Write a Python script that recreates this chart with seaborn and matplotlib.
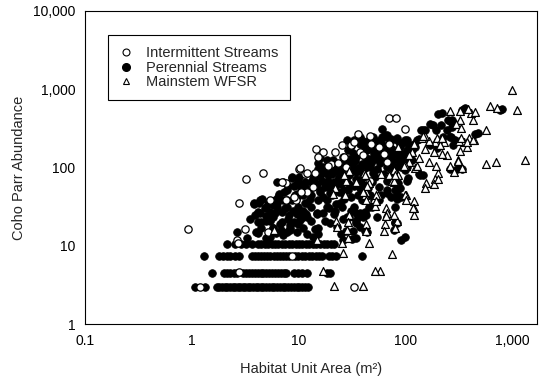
import matplotlib
matplotlib.use("Agg")
import matplotlib.pyplot as plt
import pandas as pd
import seaborn as sns
from matplotlib.lines import Line2D

# Habitat unit area (m2) and coho parr counts, by stream type.
intermittent_points = [
    (0.93, 16.5), (3.25, 72), (4.7, 86), (2.8, 35), (3.15, 16.5), (2.64, 11.8),
    (2.7, 10.8), (1.2, 3), (2.79, 4.6), (8.65, 7.5), (33, 3), (5.4, 38), (5.2, 15),
    (7.7, 63), (7.6, 38.5), (9.5, 38), (10.2, 96), (11.4, 83), (12.1, 48),
    (14.6, 170), (17, 159), (22, 156), (25.5, 192), (31, 194), (36, 268),
    (47, 252), (70, 425), (82, 425), (100, 310), (70, 200), (48, 200), (38, 158),
    (20, 112), (19, 103), (28, 101), (40, 143), (57, 183), (63, 150), (27, 136),
    (23.7, 115), (10.5, 48), (9.1, 42), (12, 84), (14.3, 84), (13.7, 56),
    (15.3, 136), (33, 213), (68, 118), (47, 68), (7, 66), (10.4, 98),
]

# Perennial units with the lowest counts fall on a few repeated values.
perennial_area_at_3 = [
    1.07, 1.33, 1.72, 1.82, 1.93, 2.04, 2.15, 2.28, 2.42, 2.56, 2.7, 2.85, 3.0,
    3.18, 3.36, 3.55, 3.75, 3.97, 4.2, 4.45, 4.7, 5.0, 5.3, 5.6, 5.95, 6.3, 6.7,
    7.1, 7.55, 8.0, 8.5, 9.0, 9.6, 10.2, 10.9, 11.6, 12.4,
]
perennial_area_at_4_5 = [
    1.54, 2.0, 2.15, 2.3, 2.48, 2.64, 3.05, 3.25, 3.45, 3.67, 3.9, 4.15, 4.42,
    4.7, 5.0, 5.32, 5.66, 6.02, 6.4, 6.8, 7.25, 7.7, 9.0, 9.9, 10.9, 12.0, 18.5,
    19.8,
]
perennial_area_at_7_5 = [
    1.3, 1.8, 1.95, 2.12, 2.3, 2.52, 2.8, 3.65, 3.9, 4.15, 4.45, 4.75, 5.1, 5.45,
    5.85, 6.25, 6.7, 7.2, 7.7, 8.2, 9.2, 9.9, 10.7, 11.6, 12.5, 13.5, 14.6, 15.7,
    16.5, 19.2, 20.8, 22.5, 39.0,
]
perennial_area_at_10_5 = [
    2.13, 2.55, 2.9, 3.25, 3.7, 4.2, 4.5, 4.85, 5.2, 5.6, 6.0, 6.5, 7.0, 7.5, 8.1,
    8.7, 9.4, 10.1, 10.9, 11.7, 12.6, 13.6, 14.7, 15.9, 17.2, 18.5, 20.0, 21.5,
]
perennial_points = [
    (3.85, 34), (4.3, 35), (4.55, 39), (4.2, 27), (4.85, 30), (5.2, 36), (5.8, 33),
    (6.3, 65), (4.2, 20), (5.0, 21), (5.8, 23), (5.8, 17), (4.5, 17), (4.0, 15),
    (5.0, 12.6), (6.3, 31), (6.6, 46), (7.3, 48), (7.2, 38), (7.8, 31), (8.1, 24.5),
    (7.0, 20), (6.8, 16), (8.4, 16), (9.0, 20), (9.8, 25.6), (9.8, 46), (10.5, 56),
    (10.1, 75), (11.4, 65), (12.7, 40), (13.2, 31), (11.8, 25.6), (13.2, 21),
    (14.3, 16.5), (13.7, 13), (15.3, 14), (15.3, 17), (14.8, 25.6), (15.3, 38),
    (16, 48), (14.8, 62), (14.3, 83), (15.3, 97), (17, 101), (18.5, 123),
    (16.6, 68), (17.8, 56), (18.5, 38), (19.2, 30), (17.8, 21),
    (2.64, 15), (3.3, 12.4), (4.2, 14.4), (5.4, 13), (7.2, 13.7), (9.6, 15),
    (5.8, 16.7), (8.4, 17), (10, 31.6), (8.65, 38), (8.65, 75), (7.8, 52),
    (9.3, 44), (3.8, 35.5), (4.4, 38), (5.0, 31.6), (6.3, 35), (7.5, 30),
    (4.4, 26), (5.4, 27), (4.5, 20), (5.4, 21), (6.7, 19), (8, 22), (10, 19),
    (20.7, 83), (21.5, 65), (20.7, 44), (22.3, 34), (21.5, 25.6), (23, 17.3),
    (24.8, 14.2), (25.8, 31), (26.8, 51), (24, 75), (24.8, 106), (28, 123),
    (29, 166), (31, 190), (33.5, 223), (37.6, 245), (35, 136), (32.4, 92),
    (30, 62), (31, 42), (33.5, 31), (30, 23), (28, 15.6), (32.4, 15.6), (35, 21),
    (37.6, 25.6), (39, 38), (37.6, 56), (40.5, 75), (39, 112), (42, 136),
    (43.7, 183), (45.5, 223), (47, 101), (49, 65), (43.7, 46), (45.5, 31),
    (40.5, 23), (42, 15.6), (19, 68), (19.9, 54), (32, 12.2), (26, 12), (35, 12.5),
    (37.8, 17.5), (36.5, 23.5), (43, 24.7),
    (7.2, 66), (8.65, 73), (7.76, 38.5), (9.6, 42), (11.5, 57), (13.8, 73),
    (15.4, 113), (18.4, 93), (21.3, 125), (26.4, 137), (29.4, 108), (23.7, 69),
    (15.9, 52), (19.8, 47), (12, 35), (14.8, 26), (18.4, 31.6), (24.5, 35),
    (28.3, 23.5), (37.8, 26), (10.4, 21.3), (8.3, 18.4), (19.8, 19.4), (35, 19.4),
    (40.5, 76), (50, 84), (58, 113), (67, 152), (42, 185), (50, 248), (65, 260),
    (83, 224), (67, 47), (80, 31.6), (83, 40), (36.5, 44.5), (48.6, 31.6),
    (54, 23.5), (80, 20.3), (100, 224), (90, 125), (104, 167),
    (220, 490), (356, 555), (273, 405), (184, 349), (195, 301), (245, 301),
    (485, 279), (154, 301), (267, 248), (130, 224), (105, 224), (65, 243),
    (83, 236), (124, 185), (90, 185), (171, 194), (198, 176), (283, 194),
    (327, 98), (107, 73), (146, 80), (85, 64), (90, 54), (83, 45), (60, 45),
    (37.8, 54), (26.4, 47), (35, 26), (42, 27), (83, 19.7), (100, 13), (43.6, 15),
    (15.4, 84), (32.7, 152), (40.5, 167), (50, 190), (60, 204), (72, 214),
    (28.3, 224), (15.9, 131),
    (364, 571), (803, 554), (254, 405), (273, 367), (148, 301), (339, 95),
    (263, 248), (295, 224), (67, 260), (93, 204), (111, 185), (62, 159), (72, 137),
    (67, 102), (78, 84), (100, 93), (138, 80),
    (340, 550), (455, 270), (770, 550), (205, 480), (263, 395), (272, 330),
    (215, 345), (142, 300), (172, 355), (92, 12), (80, 19.5), (68, 68), (80, 52),
    (82, 70), (61, 245), (61, 315), (103, 101), (107, 136), (115, 166), (120, 200),
    (134, 234), (226, 245), (115, 123), (103, 68), (134, 83), (107, 200),
    (263, 97), (305, 97), (50.7, 150), (54.6, 190), (59, 123), (54.6, 97),
    (52.6, 75), (57, 56), (50.7, 38), (57, 38), (63, 83), (68, 136), (71, 183),
    (74, 234), (79, 150), (86, 123), (82, 101), (77, 68), (86, 53), (92, 42),
    (68, 51), (74, 42), (92, 101), (96, 150), (89, 200), (79, 16),
    (11, 45), (12.5, 52), (13, 65), (14, 72), (16, 78), (17.5, 88), (19, 80),
    (20, 95), (22, 100), (23, 90), (25, 85), (26, 95), (27, 115), (30, 130),
    (32, 110), (34, 120), (36, 100), (38, 90), (42, 100), (44, 120), (46, 130),
    (48, 115), (52, 130), (55, 140), (60, 150), (62, 135), (65, 120), (70, 110),
    (73, 100), (76, 120), (11.5, 35), (13, 45), (17, 42), (18, 62), (22, 58),
    (24, 48), (27, 40), (29, 52), (33, 58), (35, 72), (38, 68), (41, 60), (45, 55),
    (47, 45), (25, 62), (30, 80), (35, 88), (28, 70), (9, 58), (10, 66), (11, 28),
    (12, 23), (17, 26), (22, 28), (26, 22), (31, 28), (6, 26), (7, 27), (5, 24),
    (6.5, 42), (8, 58), (9.5, 60), (44, 165), (48, 170), (53, 165), (38, 200),
    (40, 215), (56, 215), (64, 190), (75, 170), (85, 160), (88, 140), (95, 115),
    (100, 120), (3.5, 22), (3.9, 25), (6.2, 14.5), (7.8, 15), (11, 17),
    (12, 14), (6, 38), (8.8, 28), (11, 23),
]

mainstem_points = [
    (1010, 990), (1110, 540), (1320, 125), (620, 610), (725, 570), (575, 305),
    (567, 112), (705, 117), (435, 400), (412, 490), (324, 407), (263, 520),
    (326, 535), (390, 560), (450, 510), (300, 365), (335, 320), (357, 209),
    (440, 223), (310, 125), (343, 100), (315, 122), (205, 84), (191, 72), (157, 64),
    (249, 144), (229, 209), (191, 209), (166, 219), (144, 240), (200, 240),
    (155, 173), (185, 158), (220, 150), (134, 131), (166, 119), (116, 158),
    (120, 199), (101, 105), (108, 119), (71, 86), (78, 92), (125, 100), (326, 163),
    (376, 185), (395, 240), (155, 252), (108, 144), (86, 185), (99, 108),
    (129, 103), (194, 105), (102, 45), (120, 37), (122, 30), (66, 30), (67, 26),
    (51, 40), (56, 45), (43, 48), (29.5, 24), (43, 19), (65, 19), (84, 21),
    (22.6, 21), (28.6, 16), (46, 64), (41, 86), (30, 90), (22, 54), (28, 68),
    (76, 68), (85, 80), (78, 65), (214, 196), (220, 240), (146, 252), (323, 219),
    (337, 240), (376, 209), (434, 223), (42, 80), (35, 65), (43.5, 58), (27.6, 44),
    (42, 44), (53, 44), (30, 25), (79, 25), (100, 44), (79, 68), (97, 103),
    (59, 82), (71, 80), (81, 80), (40, 49), (27, 80), (76, 7.8), (80, 16.9),
    (66, 24), (63, 15.5), (58, 4.7), (52, 4.7), (46, 10.9), (43, 15.6), (40.5, 3.1),
    (52, 32), (53, 37), (43, 38), (29.4, 12.4), (29, 20), (26.4, 8.0), (25.5, 10.7),
    (23, 17.5), (21.6, 3.1), (17, 4.7), (15, 12), (5.9, 16), (21, 46), (188, 62),
    (205, 72), (154, 54), (121, 24.7), (118, 30), (102, 38.5), (263, 106),
    (284, 87),
]

series_labels = ["Intermittent Streams", "Perennial Streams", "Mainstem WFSR"]
x_ticks = [0.1, 1, 10, 100, 1000]
x_tick_labels = ["0.1", "1", "10", "100", "1,000"]
y_ticks = [1, 10, 100, 1000, 10000]
y_tick_labels = ["1", "10", "100", "1,000", "10,000"]


def to_frame(points, label):
    return pd.DataFrame(points, columns=["area", "abundance"]).assign(stream=label)


perennial_rows = (
    [(a, 3.0) for a in perennial_area_at_3]
    + [(a, 4.5) for a in perennial_area_at_4_5]
    + [(a, 7.5) for a in perennial_area_at_7_5]
    + [(a, 10.5) for a in perennial_area_at_10_5]
)
df_int = to_frame(intermittent_points, series_labels[0])
df_per = to_frame(perennial_rows + perennial_points, series_labels[1])
df_main = to_frame(mainstem_points, series_labels[2])

sns.set_style("white")
plt.rcParams["font.family"] = ["Liberation Sans", "DejaVu Sans"]

fig = plt.figure(figsize=(5.45, 3.78), dpi=100)
ax = fig.add_axes([85 / 545, 1 - 324 / 378, 452 / 545, 313 / 378])

sns.scatterplot(data=df_per, x="area", y="abundance", ax=ax, marker="o", s=30,
                color="black", edgecolor="black", linewidth=0.6, legend=False,
                zorder=2)
sns.scatterplot(data=df_int, x="area", y="abundance", ax=ax, marker="o", s=28,
                facecolor="white", edgecolor="black", linewidth=0.9,
                legend=False, zorder=3)
sns.scatterplot(data=df_main, x="area", y="abundance", ax=ax, marker="^", s=32,
                facecolor="white", edgecolor="black", linewidth=0.9,
                legend=False, zorder=4)

ax.set_xscale("log")
ax.set_yscale("log")
ax.set_xlim(0.1, 1720)
ax.set_ylim(1, 10000)
ax.set_xticks(x_ticks)
ax.set_xticklabels(x_tick_labels)
ax.set_yticks(y_ticks)
ax.set_yticklabels(y_tick_labels)
ax.minorticks_off()
ax.tick_params(axis="x", direction="inout", length=4, width=0.8, pad=5,
               labelsize=10, colors="black")
ax.tick_params(axis="y", direction="out", length=4, width=0.8, pad=3,
               labelsize=10, colors="black")
for side in ax.spines.values():
    side.set_visible(True)
    side.set_color("black")
    side.set_linewidth(0.8)

ax.set_xlabel("Habitat Unit Area (m²)", fontsize=10.5)
ax.set_ylabel("Coho Parr Abundance", fontsize=10.5)
ax.xaxis.set_label_coords(0.5, -0.12)
ax.yaxis.set_label_coords(-0.13, 0.5)

handles = [
    Line2D([], [], marker="o", linestyle="None", markerfacecolor="white",
           markeredgecolor="black", markersize=5, markeredgewidth=0.8),
    Line2D([], [], marker="o", linestyle="None", markerfacecolor="black",
           markeredgecolor="black", markersize=5.5),
    Line2D([], [], marker="^", linestyle="None", markerfacecolor="white",
           markeredgecolor="black", markersize=5, markeredgewidth=0.8),
]
leg = ax.legend(handles, series_labels, loc="upper left",
                bbox_to_anchor=(0.05, 0.923), borderaxespad=0, fontsize=10.5,
                frameon=True, fancybox=False, framealpha=1, edgecolor="black",
                borderpad=0.75, labelspacing=0.05, handlelength=1.0,
                handletextpad=0.9)
leg.get_frame().set_linewidth(0.8)

fig.savefig("out.png", dpi=100)
